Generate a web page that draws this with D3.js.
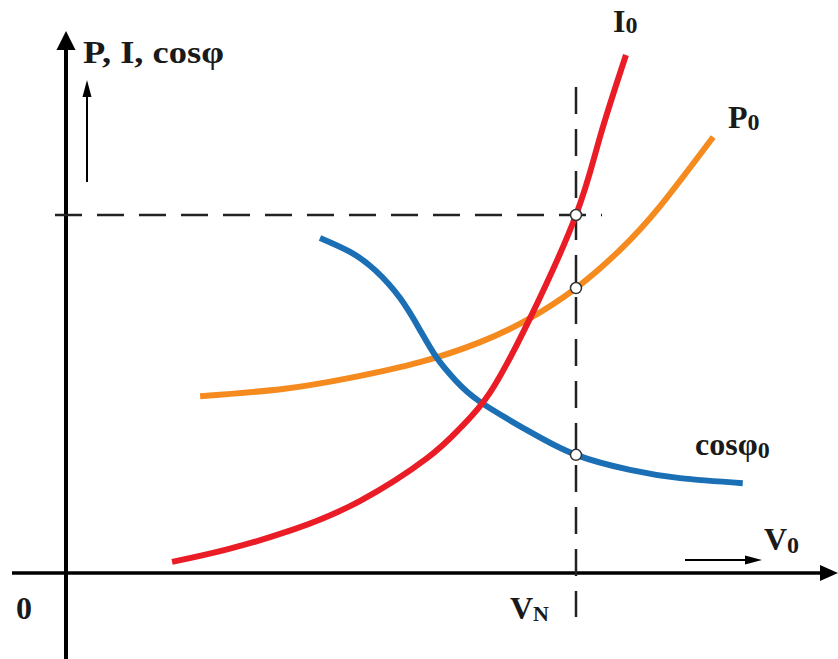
<!DOCTYPE html>
<meta charset="utf-8">
<style>
body { margin: 0; background: #fff; }
text {
  font-family: "Liberation Serif", "Times New Roman", serif;
  font-weight: bold;
  fill: #1a1a1a;
}
.curve { fill: none; stroke-width: 6px; stroke-linecap: butt; }
.dash { stroke: #222; stroke-width: 2.5px; stroke-dasharray: 27,15; }
</style>
<body>
<svg width="838" height="659"></svg>
<script src="https://d3js.org/d3.v7.min.js"></script>
<script>

// voltage V0 / VN on x, value relative to the VN level on y
var iCurve = [
  [0.208, 0.031], [0.316, 0.066], [0.445, 0.121], [0.576, 0.201],
  [0.708, 0.321], [0.773, 0.405], [0.831, 0.503], [0.910, 0.712],
  [1.000, 1.000], [1.047, 1.218], [1.098, 1.447]
];
var pCurve = [
  [0.263, 0.494], [0.425, 0.514], [0.557, 0.545], [0.694, 0.589],
  [0.812, 0.645], [0.904, 0.707], [1.000, 0.796], [1.086, 0.902],
  [1.165, 1.025], [1.269, 1.218]
];
var cosCurve = [
  [0.498, 0.936], [0.557, 0.897], [0.606, 0.846], [0.655, 0.768],
  [0.694, 0.679], [0.727, 0.601], [0.763, 0.539], [0.812, 0.478],
  [0.910, 0.394], [1.000, 0.330], [1.106, 0.288], [1.204, 0.265],
  [1.327, 0.251]
];
var vN = 1.0;
var refLevel = 1.0;
var markerValues = [1.000, 0.796, 0.330];   // I0, P0, cos at VN

var colors = { I: "#ea1d27", P: "#f58a1f", cos: "#1b6fb5" };

var svg = d3.select("svg"),
    width = +svg.attr("width"),
    height = +svg.attr("height");

var x = d3.scaleLinear().domain([0, 1]).range([66, 576]);
var y = d3.scaleLinear().domain([0, 1]).range([573, 215]);

var line = d3.line()
    .x(function(d) { return x(d[0]); })
    .y(function(d) { return y(d[1]); })
    .curve(d3.curveNatural);

// axes
svg.append("line")
    .attr("x1", x(0)).attr("x2", x(0))
    .attr("y1", height).attr("y2", 46)
    .attr("stroke", "#000").attr("stroke-width", 4);
svg.append("path")
    .attr("d", "M" + x(0) + ",31 L" + (x(0) - 9.5) + ",50 L" + (x(0) + 9.5) + ",50 Z")
    .attr("fill", "#000");

svg.append("line")
    .attr("x1", 12).attr("x2", 826)
    .attr("y1", y(0)).attr("y2", y(0))
    .attr("stroke", "#000").attr("stroke-width", 3.5);
svg.append("path")
    .attr("d", "M838," + y(0) + " L820," + (y(0) - 8) + " L820," + (y(0) + 8) + " Z")
    .attr("fill", "#000");

// small direction arrows
svg.append("line")
    .attr("x1", 87).attr("x2", 87).attr("y1", 182).attr("y2", 94)
    .attr("stroke", "#000").attr("stroke-width", 2);
svg.append("path").attr("d", "M87,80 L82.5,97 L91.5,97 Z").attr("fill", "#000");

svg.append("line")
    .attr("x1", 685).attr("x2", 748).attr("y1", 560).attr("y2", 560)
    .attr("stroke", "#000").attr("stroke-width", 2);
svg.append("path").attr("d", "M762,560 L745,555.5 L745,564.5 Z").attr("fill", "#000");

// dashed guides at VN
svg.append("line").attr("class", "dash")
    .attr("x1", x(vN)).attr("x2", x(vN))
    .attr("y1", 87).attr("y2", 617);
svg.append("line").attr("class", "dash")
    .attr("x1", 55).attr("x2", 602)
    .attr("y1", y(refLevel)).attr("y2", y(refLevel));

// curves
svg.append("path").datum(pCurve).attr("class", "curve")
    .attr("stroke", colors.P).attr("d", line);
svg.append("path").datum(cosCurve).attr("class", "curve")
    .attr("stroke", colors.cos).attr("d", line);
svg.append("path").datum(iCurve).attr("class", "curve")
    .attr("stroke", colors.I).attr("d", line);

svg.selectAll("circle.mark")
    .data(markerValues)
    .enter().append("circle")
    .attr("class", "mark")
    .attr("cx", x(vN))
    .attr("cy", function(d) { return y(d); })
    .attr("r", 5.5)
    .attr("fill", "#fff")
    .attr("stroke", "#333")
    .attr("stroke-width", 1.5);

// labels
function label(tx, ty, main, sub, size, subSize, dy) {
  var t = svg.append("text").attr("x", tx).attr("y", ty).style("font-size", size + "px");
  t.append("tspan").text(main);
  if (sub) t.append("tspan").attr("dy", dy).style("font-size", subSize + "px").text(sub);
  return t;
}

svg.append("text")
    .attr("x", 83).attr("y", 63)
    .style("font-size", "31px")
    .attr("textLength", 141).attr("lengthAdjust", "spacingAndGlyphs")
    .text("P, I, cosφ");

label(613, 32, "I", "0", 32, 24, 1);
label(728, 128, "P", "0", 32, 24, 2);
label(695, 455, "cosφ", "0", 32, 24, 3);
label(764, 550, "V", "0", 32, 24, 3);
label(16, 619, "0", null, 32);
label(510, 619, "V", "N", 32, 22, 2);

</script>
</body>
